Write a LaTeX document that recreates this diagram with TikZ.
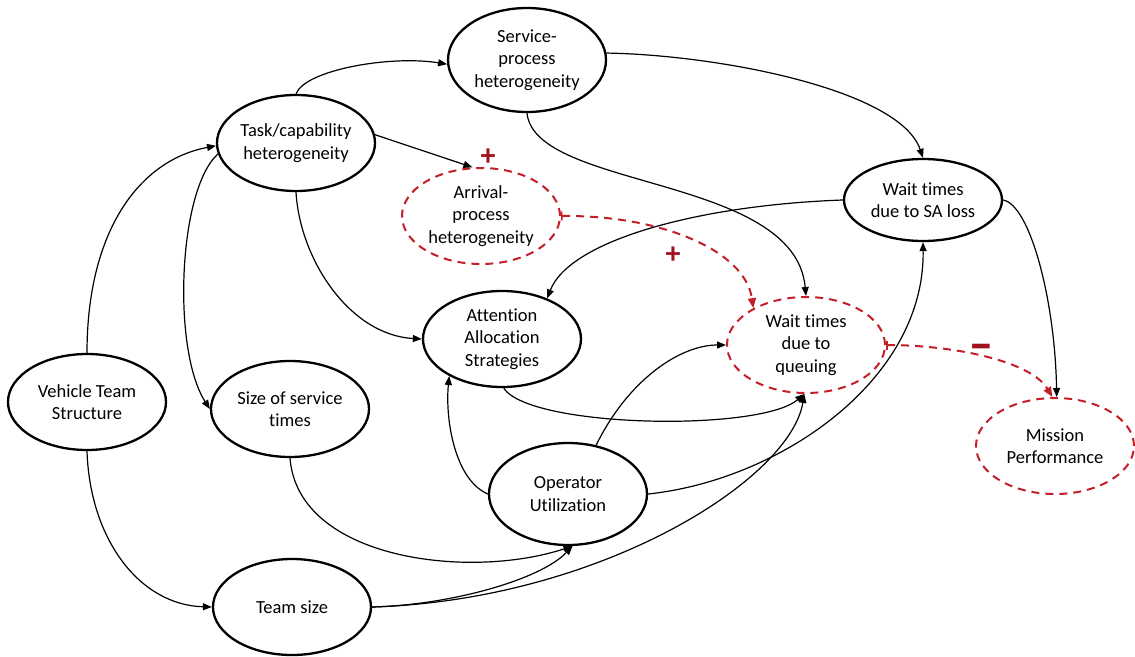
\documentclass[tikz,border=0pt]{standalone}
\usepackage{fontspec}
\setmainfont{Carlito}[Ligatures={NoCommon}]
\usetikzlibrary{shapes.geometric,arrows.meta}
\definecolor{linkred}{RGB}{196,30,40}
\definecolor{signred}{RGB}{160,18,28}
\tikzset{
  factor/.style={ellipse, draw=black, line width=2.3pt, minimum width=158pt, minimum height=96pt,
    inner xsep=-20pt, inner ysep=-4pt, align=center, font=\fontsize{18.5}{22.5}\selectfont},
  redfactor/.style={factor, draw=linkred, line width=2pt, dash pattern=on 8pt off 6pt},
  link/.style={line width=1.2pt, -{Triangle[length=9pt,width=7pt]}},
  redlink/.style={line width=2pt, draw=linkred, dash pattern=on 8pt off 6pt,
    {Bar[width=9pt,line width=1.5pt]}-{Triangle[length=10pt,width=8pt]}},
  sign/.style={text=signred, font=\fontsize{30}{30}\selectfont\bfseries, inner sep=0pt}
}
\begin{document}
\begin{tikzpicture}[x=1pt,y=-1pt]
\useasboundingbox (0,0) rectangle (1135,656);
% factors
\node[factor, minimum height=104pt] (service) at (527,60) {Service-\\process\\heterogeneity};
\node[factor] (task) at (296,143) {Task/capability\\heterogeneity};
\node[redfactor] (arrival) at (481,216) {Arrival-\\process\\heterogeneity};
\node[factor, minimum height=82pt] (waitsa) at (923,200) {Wait times\\due to SA loss};
\node[factor] (attention) at (502,339) {Attention\\Allocation\\Strategies};
\node[redfactor] (queue) at (806,345) {Wait times\\due to\\queuing};
\node[factor] (vts) at (87,402) {Vehicle Team\\Structure};
\node[factor] (size) at (290,409) {Size of service\\times};
\node[redfactor] (mission) at (1055,446) {Mission\\Performance};
\node[factor, minimum height=102pt] (operator) at (568,494) {Operator\\Utilization};
\node[factor] (team) at (292,607) {Team size};
% influence links
\draw[link] (vts.north) .. controls (87,230) and (140,160) .. (task.182);
\draw[link] (vts.south) .. controls (90,540) and (140,605) .. (team.west);
\draw[link] (task.188) .. controls (178,190) and (172,350) .. (size.west);
\draw[link] (task.north) .. controls (305,70) and (390,55) .. (service.183);
\draw[link] (task.6) -- (arrival.100);
\draw[link] (task.south) .. controls (300,260) and (350,335) .. (attention.west);
\draw[link] (service.5) .. controls (720,55) and (900,90) .. (waitsa.north);
\draw[link] (service.south) .. controls (535,190) and (795,175) .. (queue.north);
\draw[link] (waitsa.west) .. controls (700,205) and (570,240) .. (attention.42);
\draw[link] (waitsa.east) .. controls (1030,205) and (1055,300) .. (mission.88);
\draw[link] (attention.272) .. controls (530,428) and (760,432) .. (queue.268);
\draw[link] (operator.60) .. controls (628,380) and (680,345) .. (queue.west);
\draw[link] (operator.west) .. controls (455,480) and (445,420) .. (attention.215);
\draw[link] (operator.east) .. controls (780,480) and (925,380) .. (waitsa.south);
\draw[link] (size.south) .. controls (298,560) and (470,580) .. (operator.275);
\draw[link] (team.east) .. controls (450,605) and (540,580) .. (operator.275);
\draw[link] (team.east) .. controls (600,600) and (790,480) .. (queue.268);
% polarity links
\draw[redlink] (arrival.east) .. controls (660,215) and (745,250) .. (queue.145);
\draw[redlink] (queue.east) .. controls (950,345) and (1030,360) .. (mission.93);
% polarity signs
\node[sign] (plusa) at (488,157) {+};
\node[sign] (plusb) at (673,255) {+};
\node[sign, font=\fontsize{24}{24}\selectfont\bfseries] (minus) at (981,353) {\scalebox{1}[2.2]{—}};
\end{tikzpicture}
\end{document}
